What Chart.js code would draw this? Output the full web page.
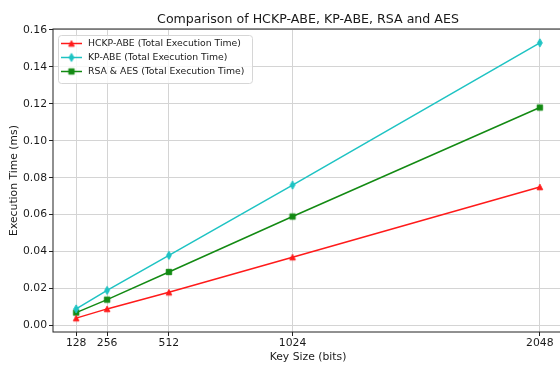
<!DOCTYPE html>
<html><head><meta charset="utf-8">
<script src="https://cdn.jsdelivr.net/npm/chart.js@4/dist/chart.umd.min.js"></script>
<style>html,body{margin:0;padding:0;overflow:hidden;background:#fff}#wrap{width:580px;height:365px;position:relative}</style>
</head><body><div id="wrap"><canvas id="c" width="580" height="365"></canvas></div>
<script>
const keySizes = [128, 256, 512, 1024, 2048];
const hckpAbe = [0.004, 0.009, 0.018, 0.037, 0.075];
const kpAbe = [0.009, 0.019, 0.038, 0.076, 0.153];
const rsaAes = [0.007, 0.014, 0.029, 0.059, 0.118];
const seriesNames = ['HCKP-ABE (Total Execution Time)', 'KP-ABE (Total Execution Time)', 'RSA & AES (Total Execution Time)'];
const yTicks = [0, 0.02, 0.04, 0.06, 0.08, 0.10, 0.12, 0.14, 0.16];
const titleText = 'Comparison of HCKP-ABE, KP-ABE, RSA and AES';
const xLabel = 'Key Size (bits)';
const yLabel = 'Execution Time (ms)';

const colors = ['#ff1a1a', '#1ec3c3', '#138a13'];
const FONT = '"DejaVu Sans", Verdana, sans-serif';
const TEXT = '#1a1a1a';

function makeMarker(kind, color) {
  const s = 14, c = document.createElement('canvas');
  c.width = s; c.height = s;
  const g = c.getContext('2d');
  g.fillStyle = color; g.strokeStyle = color; g.lineWidth = 1; g.lineJoin = 'miter';
  const m = s / 2;
  g.beginPath();
  if (kind === 'tri') {
    const r = 2.8;
    g.moveTo(m, m - r); g.lineTo(m + r, m + r); g.lineTo(m - r, m + r);
  } else if (kind === 'thin') {
    const h = 4.1, w = 2.4;
    g.moveTo(m, m - h); g.lineTo(m + w, m); g.lineTo(m, m + h); g.lineTo(m - w, m);
  } else {
    const r = 2.7;
    g.rect(m - r, m - r, 2 * r, 2 * r);
  }
  g.closePath(); g.fill(); g.stroke();
  return c;
}
const markers = [makeMarker('tri', colors[0]), makeMarker('thin', colors[1]), makeMarker('sq', colors[2])];
const seriesValues = [hckpAbe, kpAbe, rsaAes];

const decor = {
  id: 'decor',
  afterDraw(chart) {
    const { ctx, chartArea: a } = chart;
    ctx.save();
    ctx.strokeStyle = '#222'; ctx.lineWidth = 1;
    ctx.strokeRect(a.left, a.top, a.right - a.left, a.bottom - a.top);
    ctx.fillStyle = TEXT;
    ctx.font = '12.6px ' + FONT;
    ctx.textAlign = 'center'; ctx.textBaseline = 'alphabetic';
    ctx.fillText(titleText, (a.left + a.right) / 2, 22.5);
    const bx = 58.5, by = 35.5, bw = 194, bh = 48, r = 3;
    ctx.beginPath();
    ctx.moveTo(bx + r, by); ctx.lineTo(bx + bw - r, by); ctx.quadraticCurveTo(bx + bw, by, bx + bw, by + r);
    ctx.lineTo(bx + bw, by + bh - r); ctx.quadraticCurveTo(bx + bw, by + bh, bx + bw - r, by + bh);
    ctx.lineTo(bx + r, by + bh); ctx.quadraticCurveTo(bx, by + bh, bx, by + bh - r);
    ctx.lineTo(bx, by + r); ctx.quadraticCurveTo(bx, by, bx + r, by);
    ctx.closePath();
    ctx.fillStyle = 'rgba(255,255,255,0.8)'; ctx.fill();
    ctx.strokeStyle = '#d6d6d6'; ctx.lineWidth = 1; ctx.stroke();
    const rows = [43.5, 57.5, 71.5];
    ctx.font = '9.3px ' + FONT;
    ctx.textAlign = 'left'; ctx.textBaseline = 'middle';
    chart.data.datasets.forEach((ds, i) => {
      const y = rows[i];
      ctx.strokeStyle = ds.borderColor; ctx.lineWidth = 1.5;
      ctx.beginPath(); ctx.moveTo(61, y); ctx.lineTo(82, y); ctx.stroke();
      const mk = ds.pointStyle;
      ctx.drawImage(mk, 71.5 - mk.width / 2, y - mk.height / 2);
      ctx.fillStyle = TEXT;
      ctx.fillText(ds.label, 88, y + 0.5);
    });
    ctx.restore();
  }
};

const datasets = seriesValues.map((vals, i) => ({
  label: seriesNames[i],
  data: keySizes.map((k, j) => ({ x: k, y: vals[j] })),
  borderColor: colors[i],
  backgroundColor: colors[i],
  borderWidth: 1.5,
  pointStyle: markers[i],
  pointRadius: 4,
  pointHoverRadius: 4,
  tension: 0,
  clip: false
}));

const gridOpts = { color: '#d4d4d4', lineWidth: 1, tickColor: '#222', tickLength: 4, tickWidth: 1, drawTicks: true };

new Chart(document.getElementById('c'), {
  type: 'line',
  data: { datasets },
  options: {
    responsive: false,
    animation: false,
    devicePixelRatio: 1,
    layout: { padding: { top: 29, right: 17, left: 0, bottom: 0 } },
    plugins: { legend: { display: false }, title: { display: false }, tooltip: { enabled: false } },
    scales: {
      x: {
        type: 'linear', min: 32, max: 2144,
        afterBuildTicks(s) { s.ticks = keySizes.map(v => ({ value: v })); },
        afterFit(s) { s.height = 33; },
        grid: gridOpts,
        border: { display: false },
        ticks: { autoSkip: false, maxRotation: 0, padding: 1, color: TEXT, font: { family: FONT, size: 10.8 }, callback: v => String(v) },
        title: { display: true, text: xLabel, color: TEXT, font: { family: FONT, size: 10.8 }, padding: { top: 0, bottom: 1.5 } }
      },
      y: {
        type: 'linear', min: -0.0035, max: 0.1605,
        afterBuildTicks(s) { s.ticks = yTicks.map(v => ({ value: v })); },
        afterFit(s) { s.width = 53; },
        grid: gridOpts,
        border: { display: false },
        ticks: { autoSkip: false, padding: 2, color: TEXT, font: { family: FONT, size: 10.8 }, callback: v => Number(v).toFixed(2) },
        title: { display: true, text: yLabel, color: TEXT, font: { family: FONT, size: 10.8 }, padding: { top: 7.5, bottom: 0 } }
      }
    }
  },
  plugins: [decor]
});
</script>
</body></html>
